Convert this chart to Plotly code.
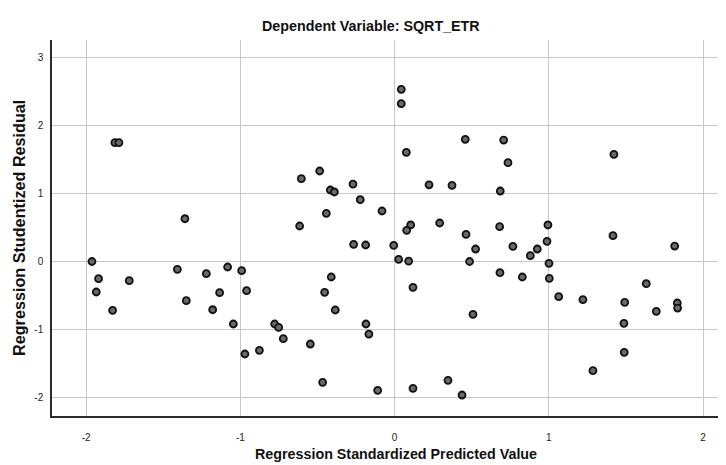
import plotly.graph_objects as go

# Regression Standardized Predicted Value (x) and Studentized Residual (y)
pred_x = [-1.814, -1.788, -1.36, -1.963, -1.920, -1.935, -1.829, -1.721, -1.409, -1.351,
          -1.221, -1.135, -1.180, -1.083, -0.992, -0.960, -1.046, -0.971, -0.877, -0.778,
          -0.752, -0.722, 0.043, 0.043, 0.458, 0.076, -0.486, -0.605, -0.270, 0.223,
          0.372, -0.417, -0.391, -0.223, -0.443, -0.082, 0.707, 0.735, 0.685, 1.422,
          -0.616, 0.104, 0.078, 0.292, 0.463, 0.525, -0.266, -0.188, -0.006, 0.026,
          0.091, 0.486, -0.411, -0.454, -0.385, 0.119, 0.508, -0.547, -0.186, -0.167,
          -0.467, -0.110, 0.119, 0.346, 0.437, 0.681, 0.994, 0.767, 0.880, 0.925,
          0.988, 1.001, 0.683, 0.828, 1.003, 1.064, 1.221, 1.416, 1.816, 1.492,
          1.632, 1.697, 1.833, 1.835, 1.487, 1.489, 1.286]
resid_y = [1.75, 1.75, 0.63, 0.0, -0.253, -0.449, -0.719, -0.282, -0.115, -0.577,
           -0.179, -0.459, -0.710, -0.081, -0.135, -0.430, -0.920, -1.362, -1.308, -0.920,
           -0.970, -1.136, 2.536, 2.324, 1.80, 1.608, 1.333, 1.22, 1.14, 1.13,
           1.12, 1.053, 1.024, 0.91, 0.71, 0.744, 1.789, 1.455, 1.038, 1.579,
           0.523, 0.538, 0.459, 0.567, 0.40, 0.184, 0.253, 0.243, 0.238, 0.032,
           0.007, 0.0, -0.228, -0.454, -0.714, -0.38, -0.778, -1.215, -0.920, -1.068,
           -1.779, -1.897, -1.868, -1.75, -1.966, 0.513, 0.538, 0.224, 0.086, 0.184,
           0.297, -0.027, -0.165, -0.228, -0.248, -0.518, -0.562, 0.38, 0.228, -0.601,
           -0.327, -0.733, -0.611, -0.685, -0.91, -1.337, -1.608]

x_ticks = [-2, -1, 0, 1, 2]
y_ticks = [-2, -1, 0, 1, 2, 3]

title_text = "Dependent Variable: SQRT_ETR"
x_title = "Regression Standardized Predicted Value"
y_title = "Regression Studentized Residual"

FONT = "Liberation Sans, Arial, sans-serif"
# page body has an 8px margin; figure sized so the screenshot window matches
OFF = 8
W, H = 726 - OFF, 465 - OFF
L, T, B_EDGE, R_EDGE = 52 - OFF, 40 - OFF, 416 - OFF, 722 - OFF
PW, PH = R_EDGE - L, B_EDGE - T


def px_x(x):
    return (x - OFF - L) / PW


def px_y(y):
    return (B_EDGE - (y - OFF)) / PH


fig = go.Figure()
fig.add_trace(go.Scatter(
    x=pred_x, y=resid_y, mode="markers",
    marker=dict(size=7, color="#6a6a6a", line=dict(color="#111111", width=1.8)),
    hoverinfo="x+y", showlegend=False,
))

fig.update_layout(
    width=W, height=H,
    margin=dict(l=L, r=W - R_EDGE, t=T, b=H - B_EDGE, autoexpand=False),
    paper_bgcolor="white", plot_bgcolor="white",
    font=dict(family=FONT, color="#111111"),
)
fig.add_annotation(text="<b>" + title_text + "</b>", xref="paper", yref="paper",
                   x=px_x(371), y=px_y(26), xanchor="center", yanchor="middle",
                   showarrow=False, font=dict(size=14.3, family=FONT, color="#111"))
fig.add_annotation(text="<b>" + x_title + "</b>", xref="paper", yref="paper",
                   x=px_x(396), y=px_y(454), xanchor="center", yanchor="middle",
                   showarrow=False, font=dict(size=14.3, family=FONT, color="#111"))
fig.add_annotation(text="<b>" + y_title + "</b>", xref="paper", yref="paper",
                   x=px_x(19), y=px_y(228), xanchor="center", yanchor="middle",
                   showarrow=False, textangle=-90,
                   font=dict(size=16.2, family=FONT, color="#111"))

fig.update_xaxes(
    range=[-2.222, 2.123], tickvals=x_ticks, ticktext=[str(v) for v in x_ticks],
    showgrid=True, gridcolor="#c8c8c8", gridwidth=1, zeroline=False,
    showline=True, linecolor="#2a2a2a", linewidth=1.5,
    ticks="outside", ticklen=0, ticklabelstandoff=11, automargin=False,
    tickfont=dict(size=10, family=FONT, color="#222"),
)
fig.update_yaxes(
    range=[-2.275, 3.262], tickvals=y_ticks, ticktext=[str(v) for v in y_ticks],
    showgrid=True, gridcolor="#c8c8c8", gridwidth=1, zeroline=False,
    showline=True, linecolor="#2a2a2a", linewidth=1.5,
    ticks="outside", ticklen=0, ticklabelstandoff=5, automargin=False,
    tickfont=dict(size=10, family=FONT, color="#222"),
)

fig.write_html("out.html")
